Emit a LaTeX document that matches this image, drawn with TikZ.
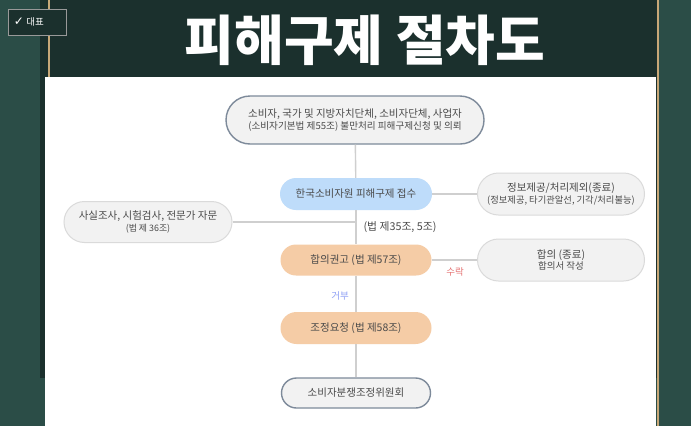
\documentclass[tikz,border=0pt]{standalone}
\usepackage{fontspec}
\newfontfamily\kr{Noto Sans CJK KR}
\newfontfamily\sym{DejaVu Sans}
\definecolor{bggreen}{HTML}{2B4D47}
\definecolor{paneldark}{HTML}{1B302D}
\definecolor{tanline}{HTML}{C8A878}
\definecolor{pillgray}{HTML}{F2F2F2}
\definecolor{pillrim}{HTML}{7D8A9A}
\definecolor{softrim}{HTML}{DADADA}
\definecolor{pillblue}{HTML}{BEDCFA}
\definecolor{pillorange}{HTML}{F5CCA6}
\definecolor{linkgray}{HTML}{CFCFCF}
\definecolor{txtgray}{HTML}{4A4A4A}
\definecolor{okred}{HTML}{E57373}
\definecolor{noblue}{HTML}{8C9EF5}
\begin{document}
\begin{tikzpicture}[x=1pt,y=-1pt,font=\kr,
  pill/.style={rectangle,inner sep=0pt,align=center,text=txtgray,font=\kr\fontsize{10.5}{13}\selectfont},
  endpill/.style={pill,fill=pillgray,draw=pillrim,line width=1.4pt},
  sidepill/.style={pill,fill=pillgray,draw=softrim,line width=1pt},
  link/.style={draw=linkgray,line width=1.4pt}]
\useasboundingbox (0,0) rectangle (691,426);
% frame
\fill [bggreen](0,0) rectangle (691,426);
\fill [paneldark](40,0) rectangle (658,378);
\draw [tanline,line width=2pt](49,0)--(49,77);
\draw [tanline,line width=2pt](658,0)--(658,426);
\fill [white](45,77) rectangle (656,426);
\node [text=white,font=\kr\bfseries\fontsize{54}{54}\selectfont] (title) at (365,40) {피해구제 절차도};
\node [draw=gray!80,fill=paneldark,minimum width=58pt,minimum height=26pt,inner sep=0pt] (badge) at (37,22) {};
\node [text=white,font=\sym\fontsize{12}{12}\selectfont] (tick) at (19,22) {✓};
\node [text=white,font=\kr\fontsize{9.5}{9.5}\selectfont] (tag) at (35,22) {대표};

% chart
\node [endpill,minimum width=258pt,minimum height=48pt,rounded corners=24pt] (apply) at (355,120)
  {소비자, 국가 및 지방자치단체, 소비자단체, 사업자\\[-1.5pt]{\fontsize{9.6}{11}\selectfont (소비자기본법 제55조) 불만처리 피해구제신청 및 의뢰}};
\node [pill,fill=pillblue,minimum width=152pt,minimum height=32pt,rounded corners=16pt] (recv) at (356,194) {한국소비자원 피해구제 접수};
\node [sidepill,minimum width=167pt,minimum height=42pt,rounded corners=21pt] (info) at (561,194)
  {정보제공/처리제외(종료)\\[-1.5pt]{\fontsize{9.3}{10}\selectfont (정보제공, 타기관알선, 기각/처리불능)}};
\node [sidepill,minimum width=168pt,minimum height=41pt,rounded corners=20.5pt] (fact) at (148,222)
  {사실조사, 시험검사, 전문가 자문\\[-1.5pt]{\fontsize{8.9}{10}\selectfont (법 제 36조)}};
\node [pill,fill=pillorange,minimum width=151pt,minimum height=31pt,rounded corners=15.5pt] (advise) at (356,260) {합의권고 (법 제57조)};
\node [sidepill,minimum width=167pt,minimum height=42pt,rounded corners=21pt] (agree) at (561,260)
  {합의 (종료)\\[-1.5pt]{\fontsize{9.5}{10}\selectfont 합의서 작성}};
\node [pill,fill=pillorange,minimum width=151pt,minimum height=32pt,rounded corners=16pt] (request) at (356,328) {조정요청 (법 제58조)};
\node [endpill,minimum width=149pt,minimum height=30pt,rounded corners=15pt] (board) at (356,393) {소비자분쟁조정위원회};

\draw [link](apply)--(recv);
\draw [link](recv)--(advise);
\draw [link](advise)--(request);
\draw [link](request)--(board);
\draw [link](recv)--(info);
\draw [link](advise)--(agree);
\draw [link](fact.east)--(fact.east-|recv.south);

\node [text=txtgray,font=\kr\fontsize{10.8}{11}\selectfont] (law) at (400,227) {(법 제35조, 5조)};
\node [text=okred,font=\kr\fontsize{9.5}{10}\selectfont] (yes) at (455,272) {수락};
\node [text=noblue,font=\kr\fontsize{9.5}{10}\selectfont] (no) at (340,296) {거부};
\end{tikzpicture}
\end{document}
